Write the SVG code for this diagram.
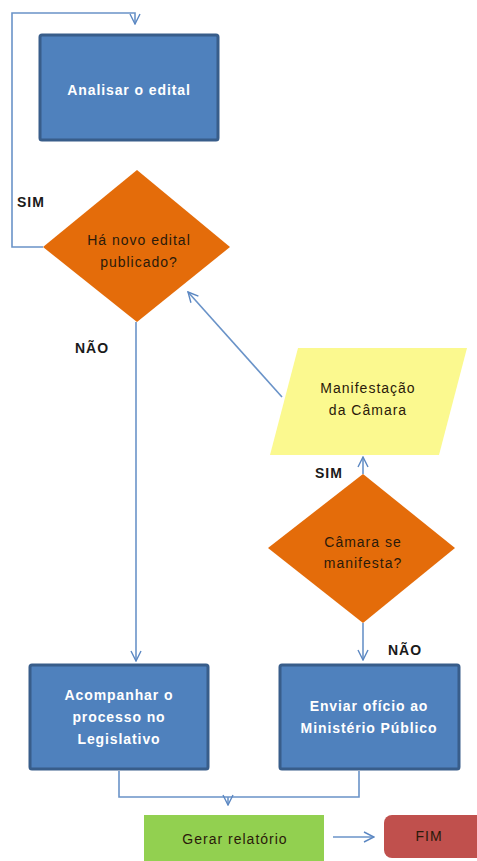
<svg xmlns="http://www.w3.org/2000/svg" width="477" height="861" viewBox="0 0 477 861">
  <defs>
    <marker id="arrow" viewBox="0 0 12 12" refX="11" refY="6" markerWidth="12" markerHeight="12" markerUnits="userSpaceOnUse" orient="auto">
      <path d="M1,1 L11,6 L1,11" fill="none" stroke="#5b87c2" stroke-width="1.4"/>
    </marker>
    <style>
      .conn { fill: none; stroke: #6a93c8; stroke-width: 1.6; }
      .proc { fill: #4f81bd; stroke: #385d8a; stroke-width: 3; }
      .dec { fill: #e46c0a; }
      .io { fill: #fbf98f; }
      .wt { font-family: "Liberation Sans", Arial, sans-serif; font-size: 14px; font-weight: bold; fill: #ffffff; text-anchor: middle; letter-spacing: 0.9px; }
      .dt { font-family: "Liberation Sans", Arial, sans-serif; font-size: 14px; fill: #2a1a0a; text-anchor: middle; letter-spacing: 1px; }
      .lbl { font-family: "Liberation Sans", Arial, sans-serif; font-size: 14px; font-weight: bold; fill: #1a1a1a; letter-spacing: 1px; }
    </style>
  </defs>

  <rect width="477" height="861" fill="#ffffff"/>

  <!-- connectors -->
  <g id="connectors">
    <path class="conn" d="M43,247 H12 V13 H135 V24" marker-end="url(#arrow)"/>
    <path class="conn" d="M136,322 V661" marker-end="url(#arrow)"/>
    <path class="conn" d="M282,397 L188,292" marker-end="url(#arrow)"/>
    <path class="conn" d="M363,474 V457" marker-end="url(#arrow)"/>
    <path class="conn" d="M363,623 V660" marker-end="url(#arrow)"/>
    <path class="conn" d="M119,771 V797 H359 V771"/>
    <path class="conn" d="M228,797 V805" marker-end="url(#arrow)"/>
    <path class="conn" d="M333,837 H374" marker-end="url(#arrow)"/>
  </g>

  <!-- labels on connectors -->
  <g id="labels">
    <text class="lbl" x="17" y="207">SIM</text>
    <text class="lbl" x="75" y="353">NÃO</text>
    <text class="lbl" x="315" y="478">SIM</text>
    <text class="lbl" x="388" y="655">NÃO</text>
  </g>

  <g id="analisar">
    <rect class="proc" x="40" y="35" width="178" height="105" rx="2"/>
    <text class="wt" x="129" y="95">Analisar o edital</text>
  </g>

  <g id="novo-edital">
    <polygon class="dec" points="137,170 230,247 137,322 43,247"/>
    <text class="dt" x="139" y="245">Há novo edital</text>
    <text class="dt" x="139" y="267">publicado?</text>
  </g>

  <g id="manifestacao">
    <polygon class="io" points="298,348 467,348 439,455 270,455"/>
    <text class="dt" x="368" y="393">Manifestação</text>
    <text class="dt" x="368" y="415">da Câmara</text>
  </g>

  <g id="camara-manifesta">
    <polygon class="dec" points="363,474 455,548 363,623 268,548"/>
    <text class="dt" x="363" y="547">Câmara se</text>
    <text class="dt" x="363" y="568">manifesta?</text>
  </g>

  <g id="acompanhar">
    <rect class="proc" x="30" y="665" width="178" height="104" rx="2"/>
    <text class="wt" x="119" y="700">Acompanhar o</text>
    <text class="wt" x="119" y="722">processo no</text>
    <text class="wt" x="119" y="744">Legislativo</text>
  </g>

  <g id="enviar">
    <rect class="proc" x="280" y="665" width="179" height="104" rx="2"/>
    <text class="wt" x="369" y="711">Enviar ofício ao</text>
    <text class="wt" x="369" y="733">Ministério Público</text>
  </g>

  <g id="relatorio">
    <rect x="144" y="815" width="180" height="50" fill="#92d050"/>
    <text class="dt" x="235" y="844">Gerar relatório</text>
  </g>

  <g id="fim">
    <rect x="384" y="815" width="100" height="43" rx="8" fill="#c0504d"/>
    <text class="dt" x="429" y="841">FIM</text>
  </g>
</svg>
